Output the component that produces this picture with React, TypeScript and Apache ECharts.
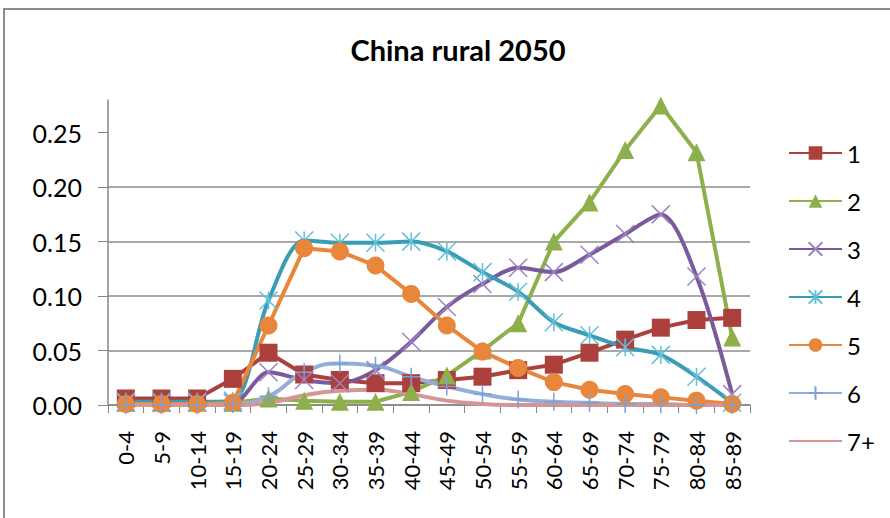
import React, { useEffect, useRef } from "react";
import * as echarts from "echarts";

const categories = ["0-4","5-9","10-14","15-19","20-24","25-29","30-34","35-39","40-44","45-49","50-54","55-59","60-64","65-69","70-74","75-79","80-84","85-89"];
const seriesNames = ["1","2","3","4","5","6","7+"];
const s1 = [0.006,0.006,0.006,0.024,0.048,0.028,0.023,0.020,0.020,0.023,0.026,0.032,0.037,0.048,0.060,0.071,0.078,0.080];
const s2 = [0.002,0.002,0.002,0.002,0.006,0.004,0.003,0.003,0.012,0.027,0.050,0.075,0.150,0.186,0.234,0.275,0.232,0.062];
const s3 = [0.002,0.002,0.002,0.002,0.030,0.023,0.020,0.032,0.058,0.090,0.111,0.126,0.122,0.138,0.157,0.175,0.118,0.010];
const s4 = [0.003,0.003,0.003,0.004,0.096,0.151,0.149,0.149,0.150,0.141,0.122,0.104,0.076,0.064,0.053,0.046,0.026,0.002];
const s5 = [0.001,0.001,0.001,0.002,0.073,0.144,0.141,0.128,0.102,0.073,0.049,0.034,0.021,0.014,0.010,0.007,0.004,0.001];
const s6 = [0,0,0,0.001,0.008,0.030,0.038,0.036,0.026,0.017,0.010,0.005,0.003,0.002,0.001,0.001,0,0];
const s7 = [0,0,0,0,0.002,0.009,0.013,0.014,0.010,0.004,0.001,0,0,0,0,0,0,0];
const yTicks = [0, 0.05, 0.1, 0.15, 0.2, 0.25];

const FONT = "Lato";
const X_PATH = "path://M0,0L10,10M10,0L0,10";
const STAR_PATH = "path://M0,0L10,10M10,0L0,10M5,0L5,10";
const PLUS_PATH = "path://M5,0L5,10M0,5L10,5";

export default function App() {
  const ref = useRef<HTMLDivElement>(null);
  useEffect(() => {
    if (!ref.current) return;
    const chart = echarts.init(ref.current, null, { renderer: "svg" });
    const mk = (name: string, data: number[], color: string, symbol: string, opts: any = {}) => ({
      name,
      type: "line",
      data,
      color,
      symbol,
      symbolSize: 18,
      smooth: opts.smooth ?? false,
      lineStyle: { width: 4, color },
      itemStyle: opts.itemStyle ?? { color, borderWidth: 0 },
      emphasis: { disabled: true },
    });
    chart.setOption({
      animation: false,
      backgroundColor: "#ffffff",
      title: {
        text: "China rural 2050",
        left: 453,
        top: 30,
        textAlign: "center",
        textStyle: { fontFamily: FONT, fontSize: 29, fontWeight: "bold", color: "#000" },
      },
      graphic: [
        {
          type: "rect",
          shape: { x: 4, y: 9, width: 900, height: 520 },
          style: { fill: "none", stroke: "#8c8c8c", lineWidth: 2 },
          silent: true,
        },
      ],
      legend: {
        orient: "vertical",
        left: 783,
        top: 136,
        itemWidth: 53,
        itemHeight: 17,
        itemGap: 24,
        textStyle: { fontFamily: FONT, fontSize: 24, color: "#000" },
        data: [
          "1", "2", "3", "4", "5", "6",
          { name: "7+", itemStyle: { color: "rgba(0,0,0,0)", borderWidth: 0 } },
        ],
      },
      grid: { left: 108, right: 140, top: 100, bottom: 113, containLabel: false, outerBoundsMode: "none" },
      xAxis: {
        type: "category",
        data: categories,
        boundaryGap: true,
        axisLine: { lineStyle: { color: "#868686", width: 1.5 } },
        axisTick: { show: true, length: 8, alignWithLabel: false, lineStyle: { color: "#868686" } },
        axisLabel: {
          rotate: 90,
          interval: 0,
          margin: 26,
          fontFamily: FONT,
          fontSize: 22,
          color: "#000",
        },
      },
      yAxis: {
        type: "value",
        min: 0,
        max: 0.28,
        interval: 0.05,
        axisLine: { show: true, lineStyle: { color: "#868686", width: 1.5 } },
        axisTick: { show: true, length: 10, customValues: yTicks, lineStyle: { color: "#868686" } },
        axisLabel: {
          margin: 26,
          fontFamily: FONT,
          fontSize: 25,
          color: "#000",
          customValues: yTicks,
          formatter: (v: number) => v.toFixed(2),
        },
        splitLine: { show: true, showMaxLine: false, lineStyle: { color: "#8c8c8c", width: 1.5 } },
      },
      series: [
        mk("1", s1, "#AC403D", "rect"),
        mk("2", s2, "#8DB04C", "triangle"),
        mk("3", s3, "#7A5A9C", X_PATH, {
          smooth: 0.3,
          itemStyle: { color: "#9C84C4", borderColor: "#9C84C4", borderWidth: 1.5 },
        }),
        mk("4", s4, "#3A9CB5", STAR_PATH, {
          smooth: 0.3,
          itemStyle: { color: "#63C0D8", borderColor: "#63C0D8", borderWidth: 1.5 },
        }),
        mk("5", s5, "#E8873C", "circle"),
        mk("6", s6, "#93AEDA", PLUS_PATH, {
          smooth: 0.5,
          itemStyle: { color: "#7F9FD4", borderColor: "#7F9FD4", borderWidth: 1.5 },
        }),
        mk("7+", s7, "#D59594", "none", { smooth: 0.5 }),
      ],
    });
    return () => chart.dispose();
  }, []);
  return (
    <div
      ref={ref}
      style={{ position: "absolute", left: 0, top: 0, width: 890, height: 518 }}
    />
  );
}
